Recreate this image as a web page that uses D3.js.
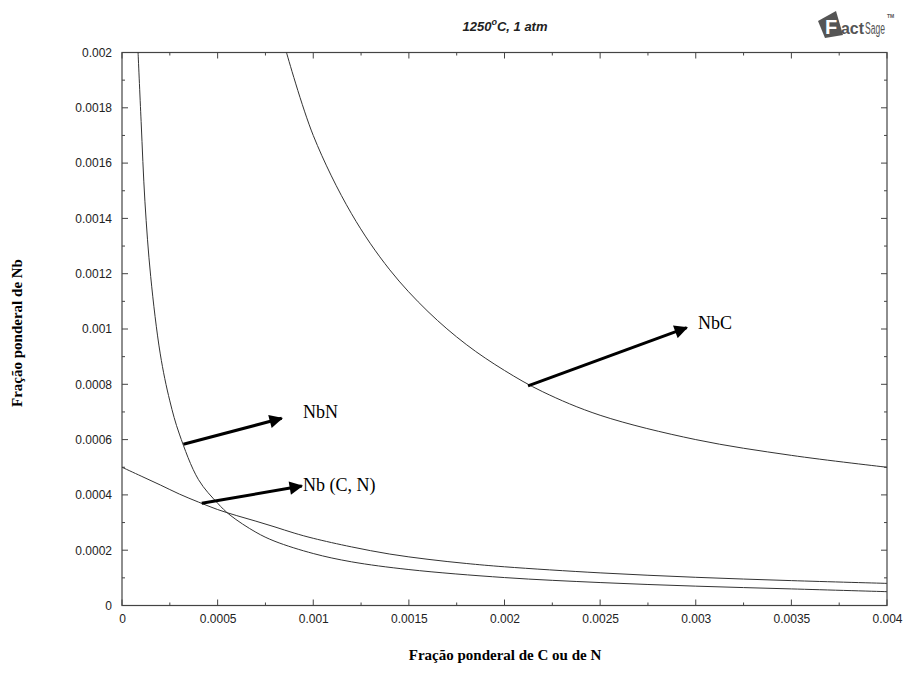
<!DOCTYPE html>
<html><head><meta charset="utf-8">
<script src="https://cdn.jsdelivr.net/npm/d3@7"></script>
<style>body{margin:0;background:#fff}svg{display:block}</style>
</head><body>
<svg id="c" width="906" height="681"></svg>
<script>
// ---- data ----
const xTicks = [0, 0.0005, 0.001, 0.0015, 0.002, 0.0025, 0.003, 0.0035, 0.004];
const xTickLabels = ["0","0.0005","0.001","0.0015","0.002","0.0025","0.003","0.0035","0.004"];
const yTicks = [0,0.0002,0.0004,0.0006,0.0008,0.001,0.0012,0.0014,0.0016,0.0018,0.002];
const yTickLabels = ["0","0.0002","0.0004","0.0006","0.0008","0.001","0.0012","0.0014","0.0016","0.0018","0.002"];

const nbcX = [0.00086,0.001,0.0012,0.0014,0.0016,0.0018,0.002,0.0022,0.0025,0.003,0.0035,0.004];
const nbcY = [0.002,0.0017,0.001417,0.001214,0.001063,0.000944,0.00085,0.000773,0.000688,0.0006,0.000543,0.0005];

const nbnX = [0.000084,0.0001,0.00012,0.00015,0.0002,0.00025,0.0003,0.0004,0.0005,0.000565,0.0007,0.0008,0.001,0.0012,0.0015,0.002,0.0025,0.003,0.0035,0.004];
const nbnY = [0.002,0.00175,0.00146,0.00119,0.00091,0.00074,0.00062,0.000455,0.00037,0.000327,0.000265,0.000232,0.000188,0.000158,0.000130,0.000101,0.000083,0.00007,0.00006,0.00005];

const nbcnX = [0,0.0001,0.0002,0.0003,0.0004,0.0005,0.0006,0.0007,0.0008,0.0009,0.001,0.0012,0.0014,0.0016,0.0018,0.002,0.0025,0.003,0.0035,0.004];
const nbcnY = [0.0005,0.000468,0.000436,0.000403,0.000374,0.000347,0.000325,0.000305,0.000284,0.000262,0.000243,0.000212,0.000186,0.000167,0.000152,0.00014,0.000118,0.000102,0.00009,0.00008];

const arrowNames = ["NbC","NbN","Nb (C, N)"];
const arrowStart = [[0.002123,0.000794],[0.000321,0.000583],[0.000417,0.00037]];
const arrowEnd = [[0.002953,0.001005],[0.000835,0.000677],[0.00094,0.000432]];
const labelPos = [[0.003012,0.001022],[0.000946,0.0007],[0.000946,0.000436]];

// ---- layout ----
const svg = d3.select("#c");
const L=122, R=887, T=52.5, B=605.5;
const x = d3.scaleLinear().domain([0,0.004]).range([L,R]);
const y = d3.scaleLinear().domain([0,0.002]).range([B,T]);

const g = svg.append("g");
g.append("rect").attr("x",L).attr("y",T).attr("width",R-L).attr("height",B-T)
 .attr("fill","none").attr("stroke","#444").attr("stroke-width",1.2);

const minorX = d3.range(0,17).map(i=>i*0.00025);
const minorY = d3.range(0,21).map(i=>i*0.0001);
const tc = "#444";
function tick(x1,y1,x2,y2){g.append("line").attr("x1",x1).attr("y1",y1).attr("x2",x2).attr("y2",y2).attr("stroke",tc).attr("stroke-width",1);}
minorX.forEach((v,i)=>{const len = i%2===0?6:3; const px=x(v);
  tick(px,B,px,B-len); tick(px,T,px,T+len);});
minorY.forEach((v,i)=>{const len = i%2===0?6:3; const py=y(v);
  tick(L,py,L+len,py); tick(R,py,R-len,py);});

const xa = d3.axisBottom(x).tickValues(xTicks).tickFormat((d,i)=>xTickLabels[i]).tickSize(0).tickPadding(9);
const ya = d3.axisLeft(y).tickValues(yTicks).tickFormat((d,i)=>yTickLabels[i]).tickSize(0).tickPadding(10);
const gx = svg.append("g").attr("transform",`translate(0,${B})`).call(xa);
const gy = svg.append("g").attr("transform",`translate(${L},0)`).call(ya);
[gx,gy].forEach(a=>{a.select(".domain").remove();
  a.selectAll("text").attr("font-family","'Liberation Sans', Arial, sans-serif").attr("font-size",12).attr("fill","#222");});

// curves
const line = d3.line().x(d=>x(d[0])).y(d=>y(d[1])).curve(d3.curveCatmullRom.alpha(0.5));
function series(xs,ys){return xs.map((v,i)=>[v,ys[i]]);}
[[nbcX,nbcY],[nbnX,nbnY],[nbcnX,nbcnY]].forEach(([xs,ys])=>{
  svg.append("path").attr("d",line(series(xs,ys))).attr("fill","none").attr("stroke","#333").attr("stroke-width",1);
});

// arrows
const defs = svg.append("defs");
defs.append("marker").attr("id","ah").attr("viewBox","0 0 10 10").attr("refX",9).attr("refY",5)
 .attr("markerWidth",5).attr("markerHeight",4.5).attr("orient","auto").attr("markerUnits","strokeWidth")
 .append("path").attr("d","M0,0 L10,5 L0,10 z").attr("fill","#000");
arrowNames.forEach((n,i)=>{
  svg.append("line").attr("x1",x(arrowStart[i][0])).attr("y1",y(arrowStart[i][1]))
    .attr("x2",x(arrowEnd[i][0])).attr("y2",y(arrowEnd[i][1]))
    .attr("stroke","#000").attr("stroke-width",3).attr("marker-end","url(#ah)");
  svg.append("text").attr("x",x(labelPos[i][0])).attr("y",y(labelPos[i][1])).attr("dy","0.35em")
    .attr("font-family","'Liberation Serif','Times New Roman',serif").attr("font-size",18).attr("fill","#000").text(n);
});

// title
const t = svg.append("text").attr("x",505).attr("y",31).attr("text-anchor","middle")
 .attr("font-family","'Liberation Sans', Arial, sans-serif").attr("font-size",13).attr("font-weight","bold").attr("font-style","italic").attr("fill","#222");
t.append("tspan").text("1250");
t.append("tspan").attr("dy",-6).attr("font-size",9).text("o");
t.append("tspan").attr("dy",6).text("C, 1 atm");

// axis titles
svg.append("text").attr("x",505).attr("y",660).attr("text-anchor","middle")
 .attr("font-family","'Liberation Serif','Times New Roman',serif").attr("font-size",15).attr("font-weight","bold").text("Fração ponderal de C ou de N");
svg.append("text").attr("transform","translate(22,333) rotate(-90)").attr("text-anchor","middle")
 .attr("font-family","'Liberation Serif','Times New Roman',serif").attr("font-size",15).attr("font-weight","bold").text("Fração ponderal de Nb");

// FactSage logo
const lg = svg.append("g");
lg.append("path").attr("d","M818,21 L836,11 L843,35 L825,38 Z").attr("fill","#555");
lg.append("text").attr("x",825).attr("y",34).attr("font-family","'Liberation Sans',Arial,sans-serif").attr("font-weight","bold").attr("font-size",20).attr("fill","#fff").text("F");
lg.append("text").attr("x",841).attr("y",34).attr("font-family","'Liberation Sans',Arial,sans-serif").attr("font-weight","bold").attr("font-size",16).attr("fill","#555")
  .attr("textLength",23).attr("lengthAdjust","spacingAndGlyphs").text("act");
lg.append("text").attr("x",865).attr("y",34).attr("font-family","'Liberation Sans',Arial,sans-serif").attr("font-size",16).attr("fill","#555")
  .attr("textLength",20).attr("lengthAdjust","spacingAndGlyphs").text("Sage");
lg.append("text").attr("x",887).attr("y",18).attr("font-family","'Liberation Sans',Arial,sans-serif").attr("font-weight","bold").attr("font-size",5).attr("fill","#555").text("TM");
</script>
</body></html>
